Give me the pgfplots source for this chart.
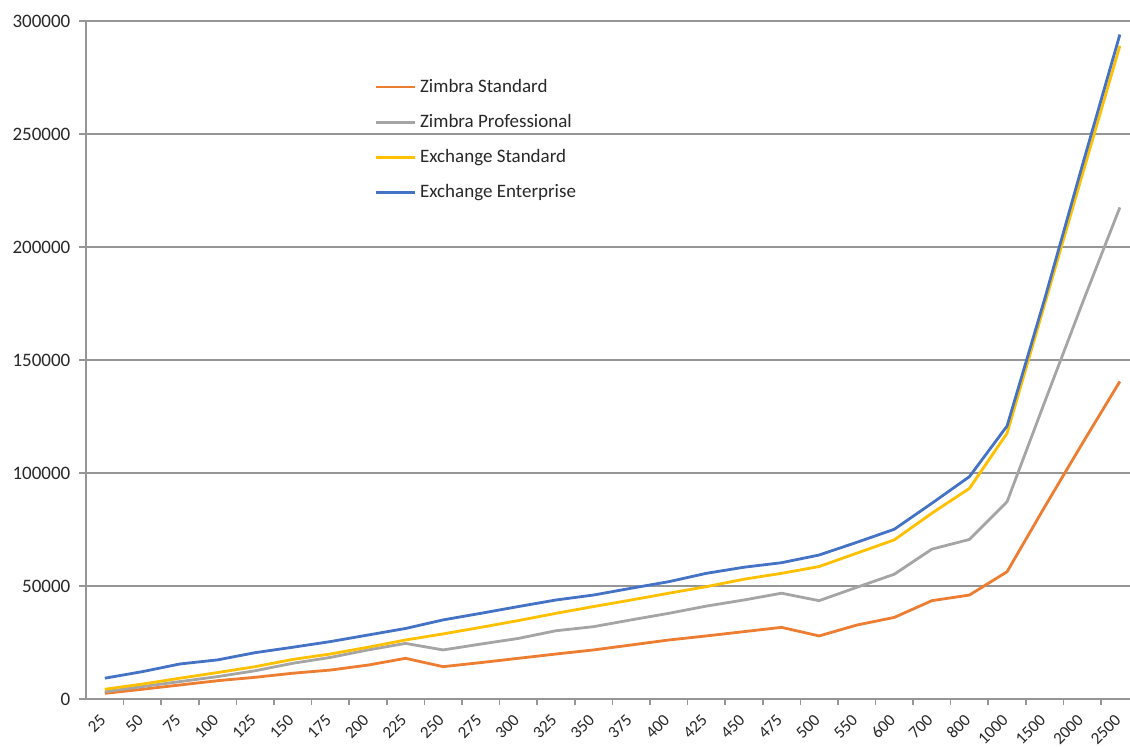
\documentclass[border=0pt]{standalone}
\usepackage{fontspec}
\setmainfont{Carlito}
\usepackage{pgfplots}
\usepackage{pgfplotstable}
\pgfplotsset{compat=1.18}

\definecolor{zstd}{HTML}{ED7D31}
\definecolor{zpro}{HTML}{A5A5A5}
\definecolor{estd}{HTML}{FFC000}
\definecolor{eent}{HTML}{4472C4}
\definecolor{gridgray}{RGB}{150,150,150}
\definecolor{txt}{RGB}{40,40,40}

% users, Zimbra Std, Zimbra Pro, Exchange Std, Exchange Ent
\pgfplotstableread{
users zstd   zpro   estd   eent
25    2500   3200   4300   9200
50    4300   5500   6600   12100
75    6200   7700   9200   15500
100   8100   9900   11700  17300
125   9600   12500  14300  20500
150   11400  15800  17500  22900
175   12800  18400  19900  25400
200   15000  21700  22900  28300
225   18000  24600  26100  31200
250   14300  21700  28800  35000
275   16100  24300  31700  37900
300   18000  26800  34700  40900
325   19900  30200  37900  43800
350   21700  32000  40900  46000
375   23900  35000  43800  49000
400   26100  37900  46800  51900
425   27900  41100  49700  55600
450   29800  43800  53000  58300
475   31700  46800  55600  60300
500   27900  43500  58600  63700
550   32700  49400  64500  69300
600   36100  55200  70400  75100
700   43500  66300  82200  86600
800   46000  70600  93200  98400
1000  56300  87300  117600 120800
1500  85000  131400 174700 177000
2000  113000 175000 231900 236000
2500  140500 217500 289000 294000
}\data

\begin{document}
\begin{tikzpicture}
\begin{axis}[
    name=ax,
    scale only axis,
    width=522pt, height=339pt,
    xmin=-0.5, xmax=27.27,
    ymin=0, ymax=300000,
    ytick={0,50000,...,300000},
    scaled y ticks=false,
    /pgf/number format/fixed,
    /pgf/number format/set thousands separator={},
    /pgf/number format/assume math mode=true,
    xtick={0,...,27},
    xticklabels={25,50,75,100,125,150,175,200,225,250,275,300,325,350,375,400,425,450,475,500,550,600,700,800,1000,1500,2000,2500},
    every major x tick/.style={draw=none},
    minor x tick num=1,
    tick align=outside,
    major tick length=3.3pt,
    minor tick length=3pt,
    tick style={gridgray, line width=0.8pt},
    axis x line*=bottom,
    axis y line*=left,
    axis line style={gridgray, line width=0.8pt, -},
    ymajorgrids,
    grid style={gridgray, line width=0.8pt},
    tick label style={font=\fontsize{9.5}{11}\selectfont, text=txt},
    yticklabel style={xshift=-1pt},
    xticklabel style={font=\fontsize{8.5}{10}\selectfont, xshift=1.5pt, yshift=-3.5pt, rotate=45, anchor=east},
    legend style={draw=none, fill=none, at={(0.27,0.927)}, anchor=north west,
        font=\fontsize{9.5}{11}\selectfont, text=txt, row sep=5.5pt},
    legend cell align=left,
    legend image code/.code={\draw[#1] (0pt,0pt) -- (19.5pt,0pt);},
    every axis plot/.append style={line width=1.4pt, line join=round},
]
\addplot[zstd] table[x expr=\coordindex, y=zstd] {\data};
\addlegendentry{Zimbra Standard}
\addplot[zpro] table[x expr=\coordindex, y=zpro] {\data};
\addlegendentry{Zimbra Professional}
\addplot[estd] table[x expr=\coordindex, y=estd] {\data};
\addlegendentry{Exchange Standard}
\addplot[eent] table[x expr=\coordindex, y=eent] {\data};
\addlegendentry{Exchange Enterprise}
\end{axis}
\pgfresetboundingbox
\path ([shift={(-43pt,-24pt)}]ax.south west) rectangle ([shift={(522pt,349.5pt)}]ax.south west);
\end{tikzpicture}
\end{document}
